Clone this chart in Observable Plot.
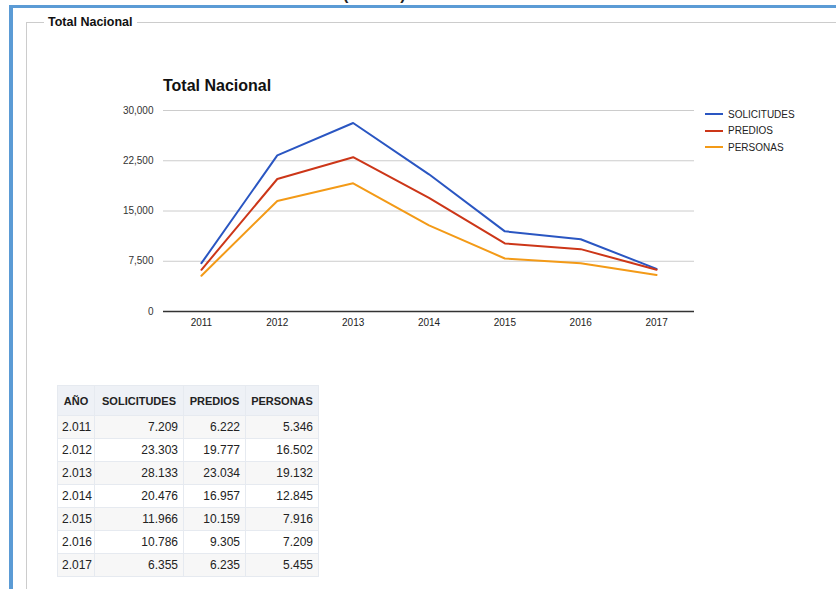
<!DOCTYPE html>
<html>
<head>
<meta charset="utf-8">
<script src="https://cdn.jsdelivr.net/npm/d3@7"></script>
<script src="https://cdn.jsdelivr.net/npm/@observablehq/plot@0.6"></script>
<style>
  html, body { margin: 0; padding: 0; background: #fff; width: 836px; height: 589px; overflow: hidden; font-family: "Liberation Sans", Arial, sans-serif; }
  .abs { position: absolute; }
  #frameLeft { left: 9px; top: 5px; width: 4px; height: 700px; background: #5b9bd5; }
  #frameTop { left: 9px; top: 5px; width: 900px; height: 3px; background: #5b9bd5; }
  #topText { left: 343px; top: -13.5px; font-size: 16px; line-height: 16px; font-weight: bold; color: #222; white-space: nowrap; }
  #fieldset { left: 26px; top: 22px; width: 900px; height: 700px; border-left: 1px solid #ccc; border-top: 1px solid #ccc; }
  #fsLegend { left: 44px; top: 14.5px; font-size: 12.5px; line-height: 14px; font-weight: bold; color: #111; background: #fff; padding: 0 4px; white-space: nowrap; }
  #chartTitle { left: 163px; top: 77.5px; font-size: 16px; line-height: 16px; font-weight: bold; color: #111; white-space: nowrap; }
  #plot { left: 0; top: 60px; }
  #legend { left: 705px; top: 106px; font-size: 10px; color: #222; }
  #legend .item { display: flex; align-items: center; height: 16.5px; }
  #legend .sw { width: 18px; height: 2px; margin-right: 5px; }
  #tbl { left: 57px; top: 385px; border-collapse: collapse; table-layout: fixed; width: 261px; font-size: 12px; color: #222; }
  #tbl th, #tbl td { border: 1px solid #e6eaf0; padding: 0 4px 0 4px; white-space: nowrap; overflow: hidden; }
  #tbl th { background: #eef1f6; height: 29px; font-size: 11px; font-weight: bold; text-align: center; padding: 0 2px; }
  #tbl td { height: 22px; text-align: right; padding-right: 5px; }
  #tbl td.yr { text-align: left; }
  #tbl tr.odd td { background: #f7f7f7; }
</style>
</head>
<body>
<div class="abs" id="topText">(TOTAL)</div>
<div class="abs" id="frameTop"></div>
<div class="abs" id="frameLeft"></div>
<div class="abs" id="fieldset"></div>
<div class="abs" id="fsLegend">Total Nacional</div>
<div class="abs" id="chartTitle">Total Nacional</div>
<div class="abs" id="plot"></div>
<div class="abs" id="legend"></div>
<table class="abs" id="tbl"></table>
<script>
const years = [2011, 2012, 2013, 2014, 2015, 2016, 2017];
const solicitudes = [7209, 23303, 28133, 20476, 11966, 10786, 6355];
const predios = [6222, 19777, 23034, 16957, 10159, 9305, 6235];
const personas = [5346, 16502, 19132, 12845, 7916, 7209, 5455];
const seriesNames = ["SOLICITUDES", "PREDIOS", "PERSONAS"];
const seriesColors = ["#2a56c2", "#cc3618", "#f39a17"];
const yTicks = [0, 7500, 15000, 22500, 30000];
const tableHeader = ["AÑO", "SOLICITUDES", "PREDIOS", "PERSONAS"];

const seriesValues = [solicitudes, predios, personas];
const data = [];
seriesNames.forEach((name, si) => {
  years.forEach((yr, i) => data.push({year: String(yr), value: seriesValues[si][i], series: name}));
});

const chart = Plot.plot({
  width: 836,
  height: 280,
  marginLeft: 163,
  marginRight: 142,
  marginTop: 50,
  marginBottom: 29,
  style: {fontFamily: "Liberation Sans, Arial, sans-serif", background: "transparent", overflow: "visible"},
  x: {type: "point", domain: years.map(String), padding: 0.5, round: false, label: null},
  y: {domain: [0, 30000], ticks: yTicks, label: null},
  color: {domain: seriesNames, range: seriesColors},
  marks: [
    Plot.ruleY(yTicks.filter(d => d > 0), {stroke: "#cccccc", strokeWidth: 1}),
    Plot.ruleY([0], {stroke: "#333", strokeWidth: 1.4}),
    Plot.axisY({ticks: yTicks, tickSize: 0, tickPadding: 10, tickFormat: d3.format(","), fontSize: 10, fill: "#333", label: null}),
    Plot.axisX({tickSize: 0, tickPadding: 7, fontSize: 10, fill: "#222", label: null}),
    Plot.line(data, {x: "year", y: "value", z: "series", stroke: "series", strokeWidth: 2, strokeLinejoin: "round"})
  ]
});
document.getElementById("plot").appendChild(chart);

// legend
const legend = document.getElementById("legend");
seriesNames.forEach((name, i) => {
  const item = document.createElement("div");
  item.className = "item";
  item.innerHTML = `<span class="sw" style="background:${seriesColors[i]}"></span><span>${name}</span>`;
  legend.appendChild(item);
});

// table
const loc = d3.formatLocale({decimal: ",", thousands: ".", grouping: [3], currency: ["", ""]});
const fmt = loc.format(",d");
const tbl = document.getElementById("tbl");
const colWidths = [37, 89, 62, 73];
let html = "<colgroup>" + colWidths.map(w => `<col style="width:${w}px">`).join("") + "</colgroup>";
html += "<tr>" + tableHeader.map(h => `<th>${h}</th>`).join("") + "</tr>";
years.forEach((yr, i) => {
  html += `<tr class="${i % 2 === 0 ? "odd" : ""}"><td class="yr">${fmt(yr)}</td><td>${fmt(solicitudes[i])}</td><td>${fmt(predios[i])}</td><td>${fmt(personas[i])}</td></tr>`;
});
tbl.innerHTML = html;
</script>
</body>
</html>
